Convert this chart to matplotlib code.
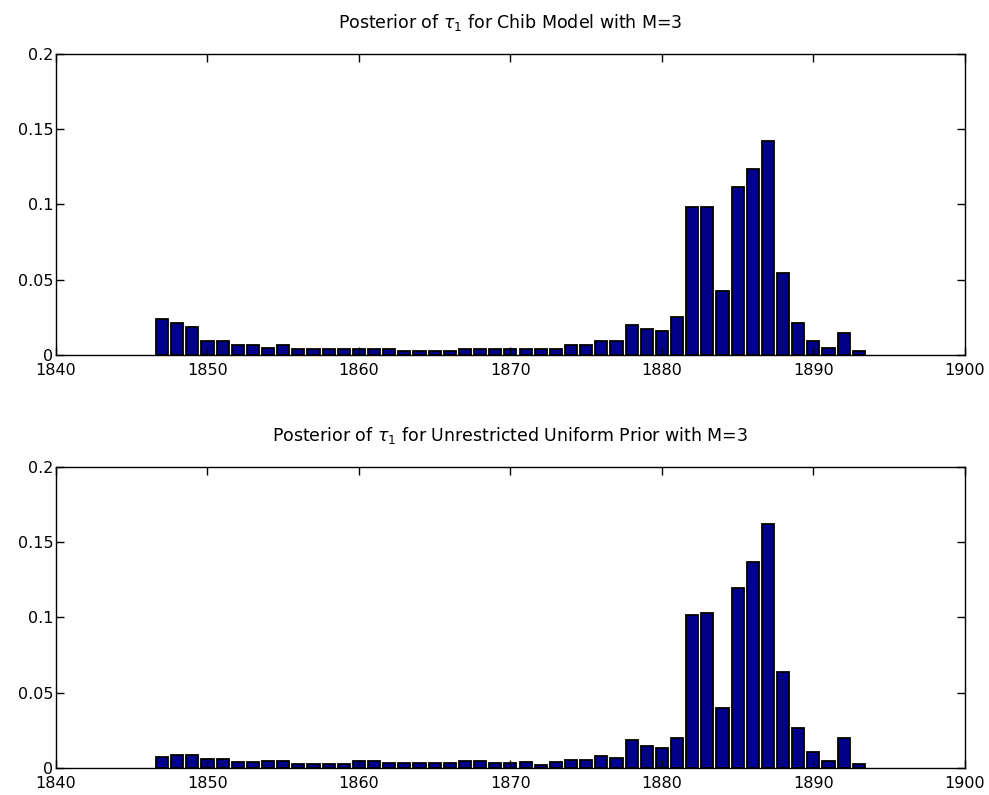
import numpy as np
import matplotlib
matplotlib.use("Agg")
import matplotlib.pyplot as plt

years = list(range(1847, 1894))

# posterior probabilities, 1847..1893
chib_post = [0.0239, 0.0215, 0.0184, 0.0093, 0.0093, 0.0066, 0.0066, 0.0049, 0.0066,
             0.0038, 0.0038, 0.0038, 0.0038, 0.0038, 0.0038, 0.0038,
             0.0027, 0.0027, 0.0027, 0.0027,
             0.0038, 0.0038, 0.0038, 0.0040, 0.0042, 0.0042, 0.0042,
             0.0066, 0.0066, 0.0095, 0.0095, 0.0199, 0.0173, 0.0162, 0.0252,
             0.0981, 0.0981, 0.0425, 0.1116, 0.1236, 0.1420, 0.0545, 0.0215,
             0.0095, 0.0047, 0.0146, 0.0029]

unif_post = [0.0071, 0.0086, 0.0086, 0.0060, 0.0060, 0.0042, 0.0042, 0.0049, 0.0049,
             0.0027, 0.0027, 0.0027, 0.0027, 0.0049, 0.0049, 0.0030,
             0.0030, 0.0030, 0.0030, 0.0030,
             0.0049, 0.0049, 0.0030, 0.0030, 0.0042, 0.0022, 0.0038,
             0.0053, 0.0053, 0.0080, 0.0064, 0.0186, 0.0146, 0.0130, 0.0197,
             0.1017, 0.1028, 0.0396, 0.1194, 0.1367, 0.1619, 0.0636, 0.0264,
             0.0104, 0.0049, 0.0197, 0.0024]

titles = [r"Posterior of $\tau_1$ for Chib Model with M=3",
          r"Posterior of $\tau_1$ for Unrestricted Uniform Prior with M=3"]

xticks = [1840, 1850, 1860, 1870, 1880, 1890, 1900]
yticks = [0, 0.05, 0.1, 0.15, 0.2]
ytick_labels = ["0", "0.05", "0.1", "0.15", "0.2"]

plt.rcParams['font.family'] = ['DejaVu Sans']
plt.rcParams['mathtext.fontset'] = 'dejavusans'

fig = plt.figure(figsize=(9.89, 7.95), dpi=100)
positions = [[0.0566, 0.5535, 0.919, 0.3786],
             [0.0566, 0.034, 0.919, 0.3786]]

for pos, vals, title in zip(positions, [chib_post, unif_post], titles):
    ax = fig.add_axes(pos)
    ax.bar(years, vals, width=0.8, color='#00008A', edgecolor='black', linewidth=1.3)
    ax.set_xlim(1840, 1900)
    ax.set_ylim(0, 0.2)
    ax.set_xticks(xticks)
    ax.set_yticks(yticks)
    ax.set_yticklabels(ytick_labels)
    ax.tick_params(direction='in', top=True, right=True, labelsize=11.5, length=6, width=1)
    ax.tick_params(axis='x', pad=6)
    ax.tick_params(axis='y', pad=2)
    for s in ax.spines.values():
        s.set_linewidth(1.0)
    ax.set_title(title, fontsize=12.5, pad=18.5)

fig.savefig("out.png", dpi=100)
